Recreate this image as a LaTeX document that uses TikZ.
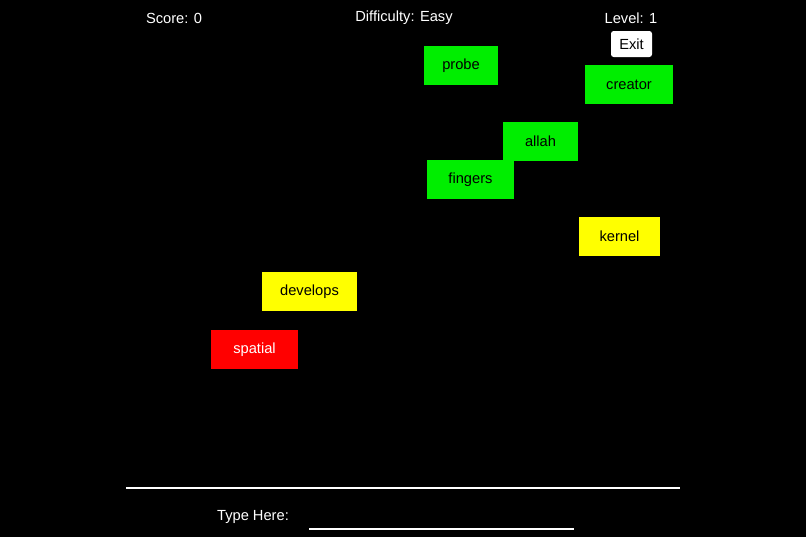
\documentclass[tikz,border=0pt]{standalone}
\usepackage{fontspec}
\setmainfont{Liberation Sans}
\tikzset{
    word/.style = {rectangle, inner sep=0pt, font=\fontsize{11}{13}\selectfont},
    hud/.style = {text=white, font=\fontsize{11}{13}\selectfont},
    rule/.style = {draw=white, line width=0.8pt}
}
\definecolor{wordgreen}{RGB}{0,238,0}
\definecolor{wordyellow}{RGB}{255,255,0}
\definecolor{wordred}{RGB}{255,0,0}

\begin{document}
\begin{tikzpicture}[x=0.75pt, y=-0.75pt]
    % Fond
    \fill[black] (0,0) rectangle (806,537);
    \useasboundingbox (0,0) rectangle (806,537);

    % Barre du haut
    \node [hud] (score) at (174,18) {Score: 0};
    \node [hud] (difficulty) at (404,18) {Difficulty: Easy};
    \node [hud] (level) at (631,18) {Level: 1};
    \node [word, fill=white, rounded corners=2pt, minimum width=30.75pt, minimum height=19.5pt] (exit) at (631.5,44) {Exit};

    % Mots
    \node [word, fill=wordgreen, minimum width=55.5pt, minimum height=29.25pt] (probe) at (461,65.5) {probe};
    \node [word, fill=wordgreen, minimum width=66pt, minimum height=29.25pt] (creator) at (629,84.5) {creator};
    \node [word, fill=wordgreen, minimum width=56.25pt, minimum height=29.25pt] (allah) at (540.5,141.5) {allah};
    \node [word, fill=wordgreen, minimum width=65.25pt, minimum height=29.25pt] (fingers) at (470.5,179.5) {fingers};
    \node [word, fill=wordyellow, minimum width=60.75pt, minimum height=29.25pt] (kernel) at (619.5,236.5) {kernel};
    \node [word, fill=wordyellow, minimum width=71.25pt, minimum height=29.25pt] (develops) at (309.5,291.5) {develops};
    \node [word, fill=wordred, text=white, minimum width=65.25pt, minimum height=29.25pt] (spatial) at (254.5,349.5) {spatial};

    % Saisie
    \coordinate (sepL) at (126,488);
    \coordinate (sepR) at (680,488);
    \draw [rule] (sepL) -- (sepR);
    \node [hud] (typehere) at (253,517) {Type Here:};
    \coordinate (inL) at (309,529);
    \coordinate (inR) at (574,529);
    \draw [rule] (inL) -- (inR);
\end{tikzpicture}
\end{document}
